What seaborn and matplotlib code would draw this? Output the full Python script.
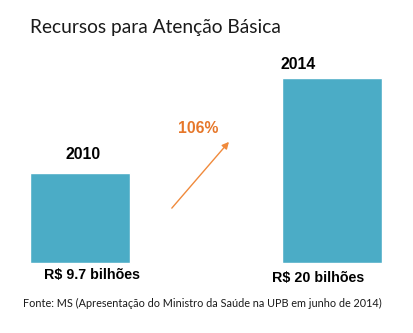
import matplotlib
matplotlib.use("Agg")
import matplotlib.pyplot as plt
import seaborn as sns
import pandas as pd

# Data
years = ["2010", "2014"]
values = [9.7, 20.0]
value_labels = ["R$ 9.7 bilhões", "R$ 20 bilhões"]
title = "Recursos para Atenção Básica"
source = "Fonte: MS (Apresentação do Ministro da Saúde na UPB em junho de 2014)"

growth = round((values[1] / values[0] - 1) * 100)

df = pd.DataFrame({"year": years, "value": values})

sns.set_theme(style="white")
plt.rcParams["font.family"] = ["Lato", "DejaVu Sans"]

BAR = "#4BACC6"
ORANGE = "#F08A3C"
ORANGE_TXT = "#E6772A"

fig = plt.figure(figsize=(4.14, 3.33), dpi=100)
ax = fig.add_axes([0, 0, 1, 1])
sns.barplot(data=df, x="year", y="value", color=BAR, width=0.397,
            saturation=1, ax=ax)
ax.set_xlim(-0.317, 1.325)
ax.set_ylim(-7.57, 28.43)
ax.axis("off")

bold = dict(family=["Liberation Sans", "DejaVu Sans"], weight="bold", color="black")
year_dx = [2, -24.5]
year_dy = [13.5, 9.5]
lab_dx = [8.5, -10]
lab_dy = [-9, -11]
for i, (yr, v, lab) in enumerate(zip(years, values, value_labels)):
    ax.annotate(yr, xy=(i, v), xytext=(year_dx[i], year_dy[i]), textcoords="offset points",
                ha="center", va="center", fontsize=11.3, **bold)
    ax.annotate(lab, xy=(i, 0), xytext=(lab_dx[i], lab_dy[i]), textcoords="offset points",
                ha="center", va="center", fontsize=10.3, **bold)

ax.annotate("", xy=(0.553, 0.574), xytext=(0.415, 0.375),
            xycoords="axes fraction", textcoords="axes fraction",
            arrowprops=dict(arrowstyle="-|>", color=ORANGE, lw=1.0,
                            mutation_scale=10, shrinkA=0, shrinkB=0))
ax.text(0.478, 0.613, f"{growth}%", transform=ax.transAxes, ha="center",
        va="center", fontsize=11.3, color=ORANGE_TXT,
        family=["Liberation Sans", "DejaVu Sans"], weight="bold")

fig.text(30 / 414, 1 - 27 / 333, title, ha="left", va="center",
         fontsize=13.8, color="#1a1a1a")
fig.text(23 / 414, 1 - 303 / 333, source, ha="left", va="center",
         fontsize=7.8, color="#1a1a1a")

fig.savefig("out.png", dpi=100)
